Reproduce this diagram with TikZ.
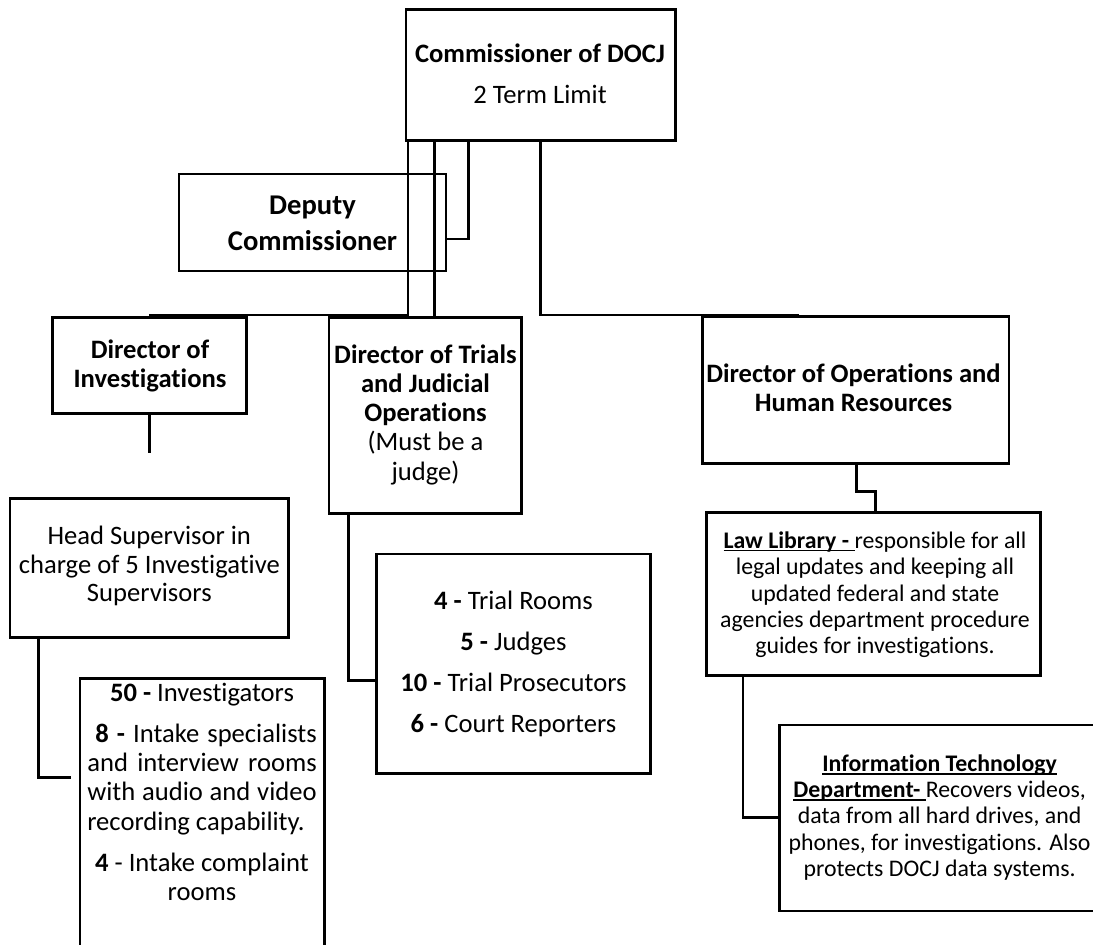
\documentclass[tikz,border=0pt]{standalone}
\usepackage{fontspec}
\setmainfont{Carlito}[Ligatures=NoCommon]
\newsavebox\myulbox
\newcommand\myul[1]{\sbox\myulbox{#1}\rlap{\rule[-0.13em]{\wd\myulbox}{0.065em}}\usebox\myulbox}
\tikzset{
  boxs/.style={draw, line width=1.4pt, inner sep=0pt, outer sep=0pt},
  conn/.style={line width=1.4pt},
  txt/.style={inner sep=0pt, outer sep=0pt, align=center, anchor=north},
}
\newcommand\fs[2]{\fontsize{#1}{#2}\selectfont}
\newcommand\tp{\rule{0pt}{0.85em}}
\newcommand\mybox[5]{\node[boxs, minimum width={((#4)-(#2))*0.5pt}, minimum height={((#5)-(#3))*0.5pt}] (#1) at ({((#2)+(#4))/2},{((#3)+(#5))/2}) {};}
\begin{document}
\begin{tikzpicture}[x=0.5pt,y=-0.5pt]
\useasboundingbox (0,0) rectangle (1093,945);
\clip (0,0) rectangle (1093,945);
% boxes
\mybox{com}{406}{9.3}{675.7}{140.7}
\mybox{dep}{179}{174}{446}{271}
\mybox{doi}{52.7}{317.3}{246.7}{413.3}
\mybox{tri}{329}{317.3}{521.7}{513.3}
\mybox{ohr}{702.3}{316.7}{1009}{463.3}
\mybox{hs}{10}{498.3}{288.7}{637.5}
\mybox{inv}{80}{678.3}{324.3}{980}
\mybox{tit}{376.7}{554}{650.7}{773.5}
\mybox{ll}{706.3}{512.7}{1040.7}{675.7}
\mybox{it}{779.7}{725}{1099}{911}
% connector coordinates
\coordinate (cA) at (408,315);
\coordinate (cB) at (149,315);
\coordinate (cM) at (434.3,0);
\coordinate (cC) at (468.3,239);
\coordinate (cD) at (540.5,315);
\coordinate (cE) at (798.7,315);
\coordinate (cF) at (149.7,453);
\coordinate (cG) at (38.3,777.7);
\coordinate (cH) at (70.7,777.7);
\coordinate (cI) at (348.3,680.7);
\coordinate (cJ) at (856.3,491.7);
\coordinate (cK) at (875.7,491.7);
\coordinate (cL) at (743,817.3);
% connectors
\draw[conn] (com.south -| cA) -- (cA) -- (cB);
\draw[conn] (com.south -| cM) -- (tri.north -| cM);
\draw[conn] (com.south -| cC) -- (cC) -- (dep.east |- cC);
\draw[conn] (com.south -| cD) -- (cD) -- (cE);
\draw[conn] (doi.south -| cF) -- (cF);
\draw[conn] (hs.south -| cG) -- (cG) -- (cH);
\draw[conn] (tri.south -| cI) -- (cI) -- (tit.west |- cI);
\draw[conn] (ohr.south -| cJ) -- (cJ) -- (cK) -- (ll.north -| cK);
\draw[conn] (ll.south -| cL) -- (cL) -- (it.west |- cL);
% texts
\node[txt, font={\fs{13.3}{14.5}}] (comT) at (540,40.1)
  {\tp\textbf{Commissioner of DOCJ}\\[5.8pt]2 Term Limit};
\node[txt, font={\fs{14.3}{17.85}\bfseries}] (depT) at (312.5,190)
  {\tp Deputy\\Commissioner};
\node[txt, font={\fs{13.3}{14.5}\bfseries}] (doiT) at (150,335.7)
  {\tp Director of\\Investigations};
\node[txt, font={\fs{13.3}{14.6}}] (triT) at (425.5,340.7)
  {\tp\textbf{Director of Trials}\\\textbf{and Judicial}\\\textbf{Operations}\\(Must be a\\judge)};
\node[txt, font={\fs{13.3}{14.35}}] (hsT) at (149.3,521.7)
  {\tp Head Supervisor in\\charge of 5 Investigative\\Supervisors};
\node[txt, font={\fs{13.3}{14.65}}] (invT) at (202,679.1)
  {\tp\textbf{50 -} Investigators\\[5.65pt]
   \makebox[114.7pt][s]{\ \textbf{8 -} Intake specialists}\\
   \makebox[114.7pt][s]{and interview rooms}\\
   \makebox[114.7pt][s]{with audio and video}\\
   \makebox[114.7pt][l]{recording capability.}\\[5.85pt]
   \textbf{4} - Intake complaint\\rooms};
\node[txt, font={\fs{13.3}{20.55}}] (titT) at (513.5,586.7)
  {\tp\textbf{4 -} Trial Rooms\\\textbf{5 -} Judges\\\textbf{10 -} Trial Prosecutors\\\textbf{6 -} Court Reporters};
\node[txt, font={\fs{13.3}{14.15}\bfseries}] (ohrT) at (853.5,360.1)
  {\tp Director of Operations and\\Human Resources};
\node[txt, font={\fs{11.9}{13.2}}] (llT) at (875,528.1)
  {\tp\myul{\textbf{Law Library -}\ }responsible for all\\legal updates and keeping all\\updated federal and state\\agencies department procedure\\guides for investigations.};
\node[txt, font={\fs{11.9}{13.05}}] (itT) at (939.6,751.5)
  {\tp\myul{\textbf{Information Technology}}\\\myul{\textbf{Department-}\ }Recovers videos,\\data from all hard drives, and\\phones, for investigations. Also\\protects DOCJ data systems.};
\end{tikzpicture}
\end{document}
